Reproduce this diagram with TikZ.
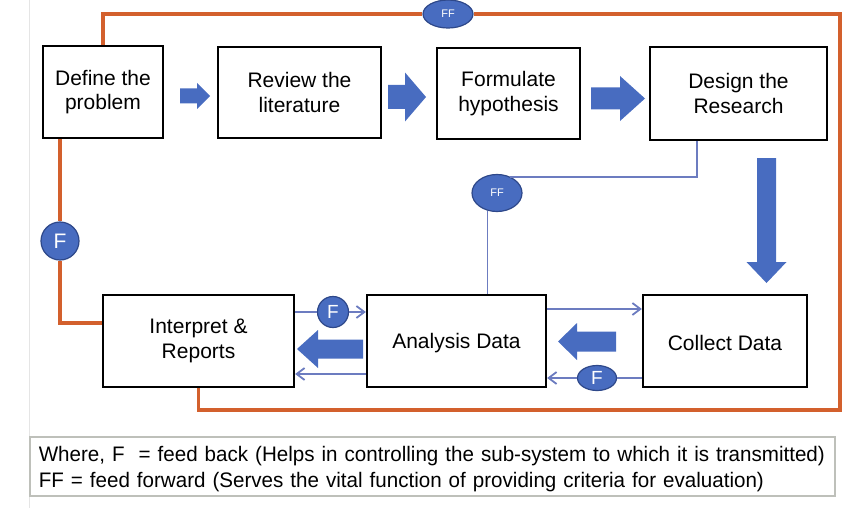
\documentclass[tikz,border=0pt]{standalone}
\usepackage{fontspec}
\setmainfont{Liberation Sans}
\newfontfamily\legendfont[FakeStretch=0.98]{Liberation Sans}
\usetikzlibrary{arrows.meta,positioning,calc,shapes.geometric}
\definecolor{fborange}{RGB}{211,96,45}
\definecolor{blkblue}{RGB}{72,108,192}
\definecolor{thinblue}{RGB}{108,124,192}
\definecolor{ringblue}{RGB}{46,72,138}
\definecolor{lgdgray}{RGB}{190,192,186}

\begin{document}
\begin{tikzpicture}[x=1pt,y=-1pt,
  box/.style={draw,line width=2.2pt,align=center,inner sep=0pt,
              font=\fontsize{21}{24.5}\selectfont,
              execute at begin node=\rule{0pt}{20pt}},
  fb/.style={circle,draw=ringblue,line width=1.2pt,fill=blkblue,
             text=white,inner sep=0pt},
  fbline/.style={draw=fborange,line width=3.5pt},
  fwline/.style={draw=thinblue,line width=1.8pt},
  arr/.style={fwline,-{Straight Barb[length=8pt,width=12pt]}},
  blk/.style={fill=blkblue}
]
\useasboundingbox (0,0) rectangle (858,508);
\draw[black!10,line width=1pt] (29.5,0) -- (29.5,508);

% process boxes
\node[box,minimum width=120pt,minimum height=92pt] (def) at (103,92)
  {Define the\\problem};
\node[box,minimum width=163pt,minimum height=91pt] (rev) at (299.5,92.5)
  {Review the\\literature};
\node[box,minimum width=143pt,minimum height=91pt] (form) at (508.5,93.5)
  {Formulate\\hypothesis};
\node[box,minimum width=177pt,minimum height=93pt] (design) at (738.5,93.5)
  {Design the\\Research};
\node[box,minimum width=191pt,minimum height=92pt] (interp) at (198.5,341)
  {Interpret \&\\Reports};
\node[box,minimum width=179pt,minimum height=92pt] (anal) at (456.5,341)
  {Analysis Data};
\node[box,minimum width=164pt,minimum height=92pt] (coll) at (725,341)
  {Collect Data};

% feed back / feed forward marks
\node[fb,ellipse,minimum width=50pt,minimum height=28pt,
      font=\fontsize{11}{11}\selectfont] (ffTop) at (448,14) {FF};
\node[fb,ellipse,minimum width=50pt,minimum height=37pt,
      font=\fontsize{11}{11}\selectfont] (ffMid) at (497,193) {FF};
\node[fb,minimum size=38pt,font=\fontsize{21}{21}\selectfont] (fL) at (60,241) {F};
\node[fb,minimum size=31pt,font=\fontsize{19}{19}\selectfont] (fA) at (333,312) {F};
\node[fb,ellipse,minimum width=39pt,minimum height=25pt,
      font=\fontsize{19}{19}\selectfont] (fC) at (597,378) {F};

% outer loop
\coordinate (ne) at (840,14);
\coordinate (se) at (840,410);
\coordinate (lc) at (60,323);
\draw[fbline] (def.north) |- (ffTop.west);
\draw[fbline] (ffTop.east) -- (ne) -- (se) -| (interp.south);
\draw[fbline] (def.south -| lc) -- (fL);
\draw[fbline] (fL) -- (lc) -- (lc -| interp.west);

% feed forward from design
\coordinate (fc) at (697,177);
\draw[fwline] (design.south -| fc) -- (fc) -- (fc -| ffMid.52);
\draw[fwline] (ffMid.242) -- (ffMid.242 |- anal.north);

% thin links
\draw[fwline] (interp.east |- fA) -- (fA);
\draw[arr] (fA) -- (fA -| anal.west);
\draw[arr] (anal.west |- 0,374) -- (interp.east |- 0,374);
\draw[arr] (anal.east |- 0,309) -- (coll.west |- 0,309);
\draw[fwline] (coll.west |- fC) -- (fC);
\draw[arr] (fC) -- (fC -| anal.east);

% block arrows
\fill[blk] (180,88.5) -- (197,88.5) -- (197,83) -- (210,96) -- (197,109)
  -- (197,103.5) -- (180,103.5) -- cycle;
\fill[blk] (388,85) -- (405,85) -- (405,72.5) -- (426,97) -- (405,121.5)
  -- (405,109) -- (388,109) -- cycle;
\fill[blk] (591,87.5) -- (620,87.5) -- (620,76) -- (645,98.5) -- (620,121)
  -- (620,109.5) -- (591,109.5) -- cycle;
\fill[blk] (757,158) -- (757,262) -- (746.5,262) -- (766.5,283) -- (786.5,262)
  -- (776,262) -- (776,158) -- cycle;
\fill[blk] (616,331.5) -- (577,331.5) -- (577,323) -- (558,341.5) -- (577,360)
  -- (577,351.5) -- (616,351.5) -- cycle;
\fill[blk] (363,339.5) -- (318,339.5) -- (318,330) -- (297,349) -- (318,368)
  -- (318,358.5) -- (363,358.5) -- cycle;

% legend
\node[draw=lgdgray,line width=1.5pt,anchor=north west,minimum width=801pt,
      minimum height=59pt,text width=787pt,inner xsep=9pt,align=left,
      font=\legendfont\fontsize{21}{26}\selectfont] (legend) at (29,436)
  {\rule{0pt}{21pt}Where, F\ \ = feed back (Helps in controlling the sub-system to which it is transmitted)\\
   FF = feed forward (Serves the vital function of providing criteria for evaluation)};
\end{tikzpicture}
\end{document}
